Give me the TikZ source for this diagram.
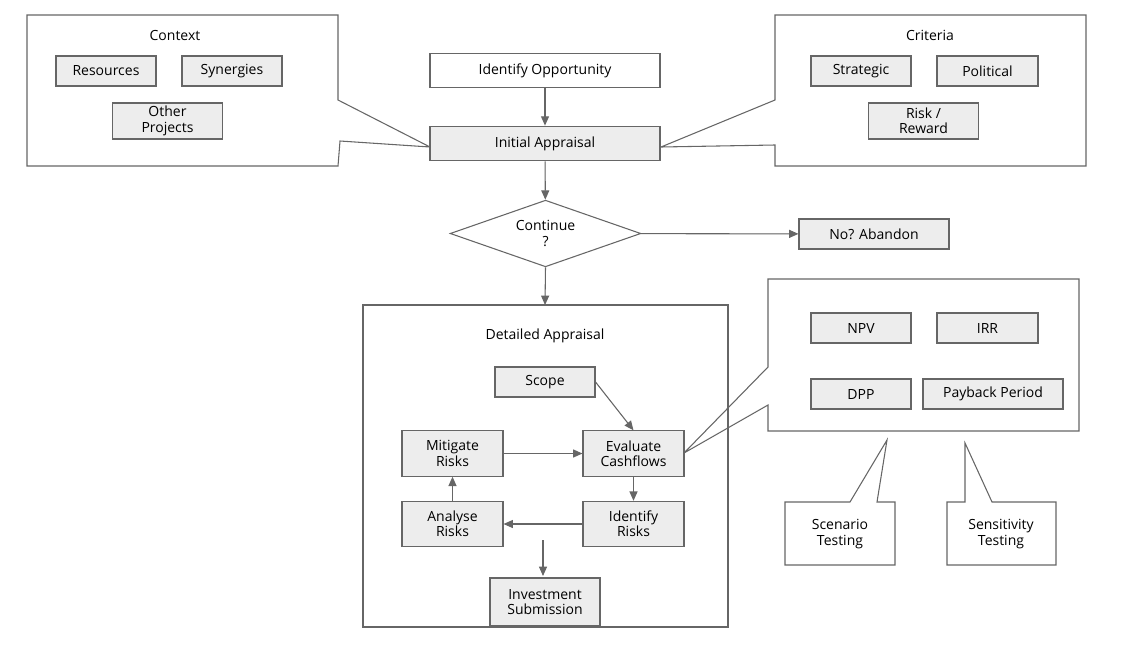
\documentclass[tikz,border=0pt]{standalone}
\usepackage{fontspec}
\setmainfont{Open Sans}
\usetikzlibrary{shapes.geometric,arrows.meta}
\begin{document}
\begin{tikzpicture}[x=0.75pt,y=-0.75pt,
  ln/.style={draw=black!60,line width=0.8pt},
  bx/.style={ln,fill=black!7,align=center,font=\fontsize{10.5}{11.5}\selectfont,inner sep=0pt},
  wb/.style={bx,fill=white},
  tx/.style={font=\fontsize{10.5}{11.5}\selectfont,align=center},
  ar/.style={ln,-{Triangle[length=7pt,width=6pt]},fill=black!60}]
\useasboundingbox (0,0) rectangle (1138,646);
\newcommand{\bxx}[4]{\node[bx,minimum width={(#3)*0.75pt},minimum height={(#4)*0.75pt},anchor=north west] at #1 {#2};}
% callouts
\draw[ln] (27,15)--(338,15)--(338,100)--(430,147)--(340,141)--(338,166)--(27,166)--cycle;
\node[tx] at (175,35) {Context};
\draw[ln] (775,15)--(1086,15)--(1086,166)--(775,166)--(775,145)--(661,147)--(775,100)--cycle;
\node[tx] at (930,35) {Criteria};
\draw[ln] (768,279)--(1079,279)--(1079,431)--(768,431)--(768,405)--(684,453)--(768,367)--cycle;
\draw[ln] (363,305) rectangle (728,627);
\node[tx] at (545,336) {Detailed Appraisal};
\draw[ln] (785,502)--(850,502)--(887,440)--(877,502)--(895,502)--(895,565)--(785,565)--cycle;
\node[tx] (sc) at (840,534) {Scenario\\Testing};
\draw[ln] (947,502)--(965,502)--(965,443)--(992,502)--(1056,502)--(1056,565)--(947,565)--cycle;
\node[tx] (se) at (1001,534) {Sensitivity\\Testing};
% boxes
\node[bx,minimum width=75pt,minimum height=22.5pt] (res) at (106,71) {Resources};
\node[bx,minimum width=75pt,minimum height=22.5pt] (syn) at (232,71) {Synergies};
\node[bx,minimum width=82pt,minimum height=27pt] (oth) at (167.5,121) {Other\\Projects};
\node[bx,minimum width=75pt,minimum height=22.5pt] (str) at (861,71) {Strategic};
\node[bx,minimum width=75.75pt,minimum height=22.5pt] (pol) at (987.5,71) {Political};
\node[bx,minimum width=82pt,minimum height=27pt] (rr) at (923.5,121) {Risk /\\Reward};
\node[wb,minimum width=172.5pt,minimum height=26pt] (io) at (545,70.5) {Identify Opportunity};
\node[bx,minimum width=172.5pt,minimum height=26pt] (ia) at (545,143.5) {Initial Appraisal};
\node[ln,diamond,aspect=2.85,fill=white,minimum width=143pt,minimum height=50pt,inner sep=0pt,tx] (co) at (545.5,233.5) {Continue\\?};
\node[bx,minimum width=112.5pt,minimum height=22.5pt] (ab) at (874,234) {No? Abandon};
\node[bx,minimum width=75pt,minimum height=22.5pt] (sco) at (545,382) {Scope};
\node[bx,minimum width=75.75pt,minimum height=34pt] (ev) at (633.5,453.5) {Evaluate\\Cashflows};
\node[bx,minimum width=75.75pt,minimum height=34pt] (mi) at (452.5,453.5) {Mitigate\\Risks};
\node[bx,minimum width=75.75pt,minimum height=34pt] (an) at (452.5,524) {Analyse\\Risks};
\node[bx,minimum width=75.75pt,minimum height=34pt] (id) at (633.5,524) {Identify\\Risks};
\node[bx,minimum width=82.5pt,minimum height=36pt] (inv) at (545,602) {Investment\\Submission};
\node[bx,minimum width=75pt,minimum height=22.5pt] (npv) at (861,328) {NPV};
\node[bx,minimum width=75.75pt,minimum height=22.5pt] (irr) at (987.5,328) {IRR};
\node[bx,minimum width=75pt,minimum height=22.5pt] (dpp) at (861,394) {DPP};
\node[bx,minimum width=105pt,minimum height=22.5pt] (pp) at (993,394) {Payback Period};
% arrows
\draw[ar] (io)--(ia);
\draw[ar] (ia)--(co);
\draw[ar] (co)--(ab);
\draw[ar] (co.south)--(545,305);
\draw[ar] (sco.east)--(ev.north);
\draw[ar] (mi)--(ev);
\draw[ar] (ev)--(id);
\draw[ar] (id)--(an);
\draw[ar] (an)--(mi);
\coordinate (st) at (543,540);
\draw[ar] (st)--(543,576);
\end{tikzpicture}
\end{document}
